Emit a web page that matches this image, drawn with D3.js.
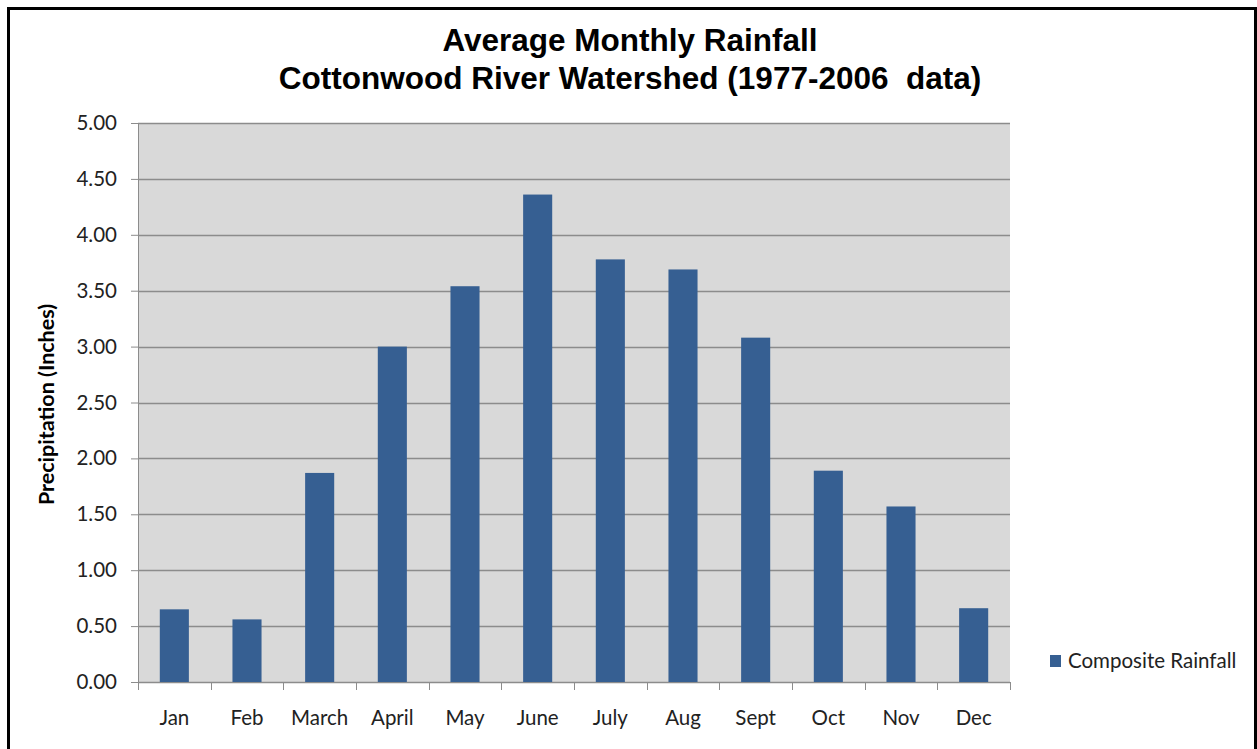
<!DOCTYPE html>
<html>
<head>
<meta charset="utf-8">
<script src="https://cdn.jsdelivr.net/npm/d3@7"></script>
<style>
  body { margin: 0; background: #fff; }
  svg { display: block; }
</style>
</head>
<body>
<div id="chart"></div>
<script>
(function(d3) {
'use strict';

var months = ['Jan', 'Feb', 'March', 'April', 'May', 'June', 'July', 'Aug', 'Sept', 'Oct', 'Nov', 'Dec'];
var rainfall = [0.65, 0.56, 1.87, 3.00, 3.54, 4.36, 3.78, 3.69, 3.08, 1.89, 1.57, 0.66];
var yTicks = [0, 0.5, 1, 1.5, 2, 2.5, 3, 3.5, 4, 4.5, 5];
var titleLines = ['Average Monthly Rainfall', 'Cottonwood River Watershed (1977-2006  data)'];
var seriesName = 'Composite Rainfall';

var W = 1257, H = 749;
var plot = {left: 138, right: 1010, top: 123, bottom: 682};
var barColor = '#365f92';
var labelFont = 'Lato, "Open Sans", sans-serif';

var svg = d3.select('#chart')
	.append('svg')
	.attr('width', W)
	.attr('height', H);

// outer frame (no bottom edge, it is cut off)
svg.append('path')
	.attr('d', 'M8.5,' + H + ' V8.5 H1255.5 V' + H)
	.attr('fill', 'none')
	.attr('stroke', '#000')
	.attr('stroke-width', 3);

var x = d3.scaleBand()
	.domain(months)
	.range([plot.left, plot.right])
	.paddingInner(0.6)
	.paddingOuter(0.3);

var y = d3.scaleLinear()
	.domain([0, 5])
	.range([plot.bottom, plot.top]);

svg.append('rect')
	.attr('x', plot.left)
	.attr('y', plot.top)
	.attr('width', plot.right - plot.left)
	.attr('height', plot.bottom - plot.top)
	.attr('fill', '#d9d9d9');

// gridlines
svg.append('g')
	.selectAll('line')
	.data(yTicks)
	.enter().append('line')
	.attr('x1', plot.left)
	.attr('x2', plot.right)
	.attr('y1', function(d) { return Math.round(y(d)) + 0.5; })
	.attr('y2', function(d) { return Math.round(y(d)) + 0.5; })
	.attr('stroke', '#8c8c8c')
	.attr('stroke-width', 1.3);

// y axis
var yAxis = d3.axisLeft(y)
	.tickValues(yTicks)
	.tickFormat(d3.format('.2f'))
	.tickSize(7)
	.tickSizeOuter(0)
	.tickPadding(14);

var gy = svg.append('g')
	.attr('transform', 'translate(' + plot.left + ',0)')
	.call(yAxis);
gy.select('.domain').attr('stroke', '#8c8c8c');
gy.selectAll('.tick line').attr('stroke', '#8c8c8c');
gy.selectAll('.tick text')
	.attr('font-family', labelFont)
	.attr('font-size', 20.5)
	.attr('fill', '#222');

// bars
svg.append('g')
	.selectAll('rect')
	.data(rainfall)
	.enter().append('rect')
	.attr('x', function(d, i) { return x(months[i]); })
	.attr('y', function(d) { return y(d); })
	.attr('width', x.bandwidth())
	.attr('height', function(d) { return plot.bottom - y(d); })
	.attr('fill', barColor);

// x axis: ticks at category boundaries
var bounds = d3.range(months.length + 1).map(function(i) { return plot.left + i * (plot.right - plot.left) / months.length; });
var gx = svg.append('g');
gx.append('line')
	.attr('x1', plot.left).attr('x2', plot.right)
	.attr('y1', plot.bottom + 0.5).attr('y2', plot.bottom + 0.5)
	.attr('stroke', '#8c8c8c');
gx.selectAll('.bt')
	.data(bounds)
	.enter().append('line')
	.attr('class', 'bt')
	.attr('x1', function(d) { return Math.round(d) + 0.5; })
	.attr('x2', function(d) { return Math.round(d) + 0.5; })
	.attr('y1', plot.bottom)
	.attr('y2', plot.bottom + 8)
	.attr('stroke', '#8c8c8c');
gx.selectAll('text')
	.data(months)
	.enter().append('text')
	.attr('x', function(d) { return x(d) + x.bandwidth() / 2; })
	.attr('y', 725)
	.attr('text-anchor', 'middle')
	.attr('font-family', labelFont)
	.attr('font-size', 20.5)
	.attr('fill', '#222')
	.text(function(d) { return d; });

// y axis title
svg.append('text')
	.attr('transform', 'translate(54,' + ((plot.top + plot.bottom) / 2 + 2) + ') rotate(-90)')
	.attr('text-anchor', 'middle')
	.attr('font-family', labelFont)
	.attr('font-weight', 'bold')
	.attr('font-size', 21.5)
	.attr('fill', '#000')
	.text('Precipitation (Inches)');

// title
svg.append('g')
	.selectAll('text')
	.data(titleLines)
	.enter().append('text')
	.attr('x', 630)
	.attr('y', function(d, i) { return 51 + i * 38; })
	.attr('text-anchor', 'middle')
	.attr('font-family', 'Arial, "Liberation Sans", sans-serif')
	.attr('font-weight', 'bold')
	.attr('font-size', 31.5)
	.attr('fill', '#000')
	.style('white-space', 'pre')
	.text(function(d) { return d; });

// legend
var legend = svg.append('g').attr('transform', 'translate(1050,655)');
legend.append('rect')
	.attr('width', 11)
	.attr('height', 12)
	.attr('fill', barColor);
legend.append('text')
	.attr('x', 18)
	.attr('y', 13)
	.attr('font-family', labelFont)
	.attr('font-size', 20.5)
	.attr('fill', '#222')
	.text(seriesName);

})(window.d3);
</script>
</body>
</html>
